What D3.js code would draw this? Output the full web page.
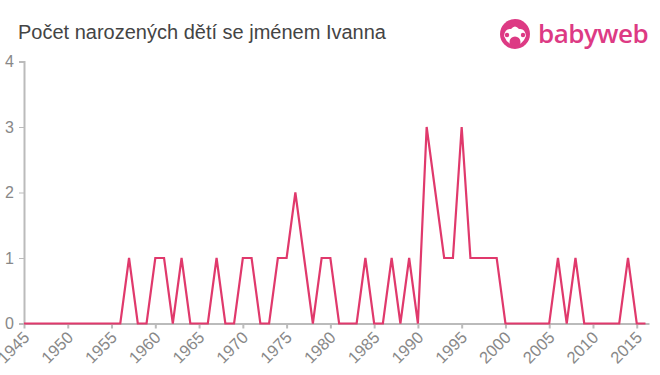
<!DOCTYPE html>
<html>
<head>
<meta charset="utf-8">
<script src="https://cdn.jsdelivr.net/npm/d3@7"></script>
<style>
body { margin: 0; background: #fff; }
#chart { width: 660px; height: 375px; }
text { font-family: "Liberation Sans", Arial, sans-serif; }
</style>
</head>
<body>
<div id="chart"></div>
<script>
// data: births per year
var years = d3.range(1945, 2017)
var counts = [
	0,0,0,0,0, 0,0,0,0,0,       // 1945-1954
	0,0,1,0,0, 1,1,0,1,0,       // 1955-1964
	0,0,1,0,0, 1,1,0,0,1,       // 1965-1974
	1,2,1,0,1, 1,0,0,0,1,       // 1975-1984
	0,0,1,0,1, 0,3,2,1,1,       // 1985-1994
	3,1,1,1,1, 0,0,0,0,0,       // 1995-2004
	0,1,0,1,0, 0,0,0,0,1,       // 2005-2014
	0,0                         // 2015-2016
]
var xTicks = d3.range(1945, 2016, 5)
var yTicks = [0, 1, 2, 3, 4]

var w = 660, h = 375

var svg = d3.select("#chart")
	.append("svg")
	.attr("width", w)
	.attr("height", h)

// scales
var x = d3.scaleLinear()
	.domain([1945, 2016.4])
	.range([24, 649])

var y = d3.scaleLinear()
	.domain([0, 4])
	.range([323.5, 61.5])

// title
svg.append("text")
	.attr("x", 18)
	.attr("y", 39)
	.attr("font-size", 20)
	.attr("fill", "#444")
	.text("Počet narozených dětí se jménem Ivanna")

// logo
var logo = svg.append("g").attr("transform", "translate(515,34)")
logo.append("circle").attr("r", 15).attr("fill", "#dd3a84")
logo.append("path")
	.attr("d", "M-11,2 Q-10,-6 -4,-5 Q0,-10 4,-5 Q10,-6 11,2 Q8,10 0,12 Q-8,10 -11,2 Z")
	.attr("fill", "#fff")
logo.append("circle").attr("cy", 8).attr("r", 5.5).attr("fill", "#dd3a84")
logo.append("circle").attr("cx", -8).attr("cy", 1).attr("r", 2.2).attr("fill", "#dd3a84")
logo.append("circle").attr("cx", 8).attr("cy", 1).attr("r", 2.2).attr("fill", "#dd3a84")
svg.append("text")
	.attr("x", 538)
	.attr("y", 43)
	.attr("font-weight", 600)
	.attr("font-size", 26)
	.attr("letter-spacing", -0.5)
	.attr("fill", "#dd3a84")
	.style("font-family", "'Open Sans', sans-serif")
	.text("babyweb")

// y axis
var yAxis = d3.axisLeft(y)
	.tickValues(yTicks)
	.tickFormat(d3.format("d"))
	.tickSize(5)
	.tickPadding(5)

var yG = svg.append("g")
	.attr("transform", "translate(24,0)")
	.call(yAxis)
yG.select(".domain").attr("stroke", "#bbb").attr("stroke-width", 2)
yG.selectAll(".tick line").attr("stroke", "#bbb")
yG.selectAll(".tick text")
	.attr("fill", "#888")
	.attr("font-size", 16)
	.style("font-family", "'Liberation Sans', Arial, sans-serif")

// x axis
var xAxis = d3.axisBottom(x)
	.tickValues(xTicks)
	.tickFormat(d3.format("d"))
	.tickSize(5)
	.tickSizeOuter(0)

var xG = svg.append("g")
	.attr("transform", "translate(0," + y(0) + ")")
	.call(xAxis)
xG.select(".domain").attr("stroke", "#bbb").attr("stroke-width", 2)
xG.selectAll(".tick line").attr("stroke", "#bbb").attr("stroke-width", 2)
xG.selectAll(".tick text")
	.attr("fill", "#888")
	.attr("font-size", 16.5)
	.style("font-family", "'Liberation Sans', Arial, sans-serif")
	.attr("text-anchor", "end")
	.attr("dy", null)
	.attr("y", 0)
	.attr("transform", "translate(6,15) rotate(-45)")

// line
var line = d3.line()
	.x(function(d, i) { return x(years[i]) })
	.y(function(d) { return y(d) })

svg.append("path")
	.datum(counts)
	.attr("d", line)
	.attr("fill", "none")
	.attr("stroke", "#e0396c")
	.attr("stroke-width", 2.2)
	.attr("stroke-linejoin", "miter")
</script>
</body>
</html>
